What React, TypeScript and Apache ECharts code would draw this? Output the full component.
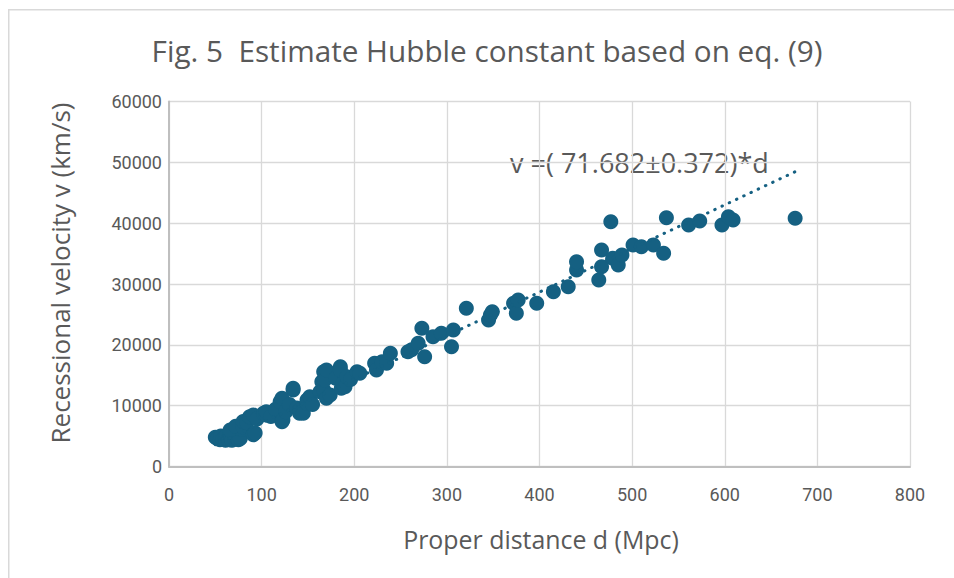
import React, { useEffect, useRef } from "react";
import * as echarts from "echarts";

// Proper distance d (Mpc)
const distances: number[] = [
  50, 52, 55, 56, 58, 60, 61, 62, 64, 65, 66, 67, 68, 70, 71, 72, 73, 75, 76, 77, 78, 66, 72, 80, 80, 84, 87,
  91, 93, 91, 95, 102, 105, 105, 110, 115, 120, 122, 122, 123, 126, 130, 134, 134, 138, 141, 141, 145, 149, 149,
  152, 155, 163, 165, 167, 167, 168, 170, 170, 174, 180, 185, 185, 186, 188, 190, 192, 196, 203, 206, 222, 224,
  230, 235, 239, 258, 262, 269, 273, 276, 285, 294, 305, 307, 321, 345, 347, 349, 372, 375, 377, 397, 415, 431,
  440, 440, 464, 467, 467, 477, 479, 485, 489, 501, 510, 523, 534, 537, 561, 573, 597, 604, 609, 676,
];

// Recessional velocity v (km/s)
const velocities: number[] = [
  4800, 4600, 4400, 5000, 4500, 4700, 4300, 5100, 4500, 4400, 5300, 4800, 4300, 5600, 4500, 4900, 5200, 4400, 5700, 4600, 6100, 6000, 6600, 6540, 7400, 7200, 8190,
  5200, 5500, 8470, 7800, 8750, 8470, 9010, 8200, 9400, 10650, 11210, 7360, 7640, 9000, 10200, 12580, 12850, 9600, 9290, 8750, 8750, 10930, 10390,
  11470, 10200, 12300, 13940, 12580, 15590, 14220, 15860, 11210, 11750, 14500, 16410, 15860, 12850, 13680, 13120, 14760, 14300, 15590, 15320, 16960, 15860,
  17200, 16960, 18600, 18870, 19200, 20250, 22720, 18050, 21340, 21890, 19700, 22440, 26000, 24080, 24900, 25450, 26830, 25190, 27370, 26830, 28740, 29560,
  32300, 33670, 30660, 32850, 35590, 40240, 34230, 33130, 34770, 36410, 36130, 36410, 35050, 40900, 39700, 40360, 39700, 41070, 40520, 40800,
];

// Fitted trendline through the origin: v = H * d
const hubbleSlope = 71.682;
const hubbleErr = 0.372;

const titleText = "Fig. 5  Estimate Hubble constant based on eq. (9)";
const xAxisTitle = "Proper distance d (Mpc)";
const yAxisTitle = "Recessional velocity v (km/s)";

const ACCENT = "#156082";
const TEXT = "#595959";
const FONT = "Roboto";
const TITLE_FONT = "'Open Sans'";

export default function App() {
  const ref = useRef<HTMLDivElement>(null);

  useEffect(() => {
    document.body.style.margin = "0";
    const chart = echarts.init(ref.current!, null, { renderer: "svg" });

    const points = distances.map((d, i) => [d, velocities[i]]);
    const dMin = Math.min(...distances);
    const dMax = Math.max(...distances);
    const trend = [
      [dMin, hubbleSlope * dMin],
      [dMax, hubbleSlope * dMax],
    ];

    chart.setOption({
      animation: false,
      backgroundColor: "#ffffff",
      textStyle: { fontFamily: FONT, color: TEXT },
      grid: { left: 169, top: 101.5, right: 44, bottom: 111.5, containLabel: false },
      xAxis: {
        type: "value",
        min: 0,
        max: 800,
        interval: 100,
        axisLine: { show: true, lineStyle: { color: "#bfbfbf", width: 2 } },
        axisTick: { show: false },
        axisLabel: { color: TEXT, fontSize: 18, fontFamily: FONT, margin: 19 },
        splitLine: { show: true, lineStyle: { color: "#d9d9d9", width: 1.3 } },
      },
      yAxis: {
        type: "value",
        min: 0,
        max: 60000,
        interval: 10000,
        axisLine: { show: true, lineStyle: { color: "#bfbfbf", width: 2 } },
        axisTick: { show: false },
        axisLabel: {
          color: TEXT,
          fontSize: 18,
          fontFamily: FONT,
          margin: 7,
          formatter: (v: number) => String(v),
        },
        splitLine: { show: true, lineStyle: { color: "#d9d9d9", width: 1.3 } },
      },
      series: [
        {
          type: "scatter",
          data: points,
          symbol: "circle",
          symbolSize: 15,
          itemStyle: { color: ACCENT, opacity: 1 },
          z: 2,
        },
        {
          type: "line",
          data: trend,
          showSymbol: false,
          symbol: "none",
          lineStyle: { color: ACCENT, width: 3, type: [0.5, 7.5], cap: "round" },
          z: 3,
          silent: true,
        },
      ],
      graphic: [
        {
          type: "rect",
          shape: { x: 8.75, y: 9.75, width: 2000, height: 2000 },
          style: { fill: "none", stroke: "#d9d9d9", lineWidth: 1.5 },
          z: -10,
          silent: true,
        },
        {
          type: "text",
          x: 487,
          y: 50,
          style: {
            text: titleText,
            fill: TEXT,
            font: `29.7px ${TITLE_FONT}`,
            textAlign: "center",
            textVerticalAlign: "middle",
          },
        },
        {
          type: "text",
          x: 510,
          y: 162,
          style: {
            text: `v =( ${hubbleSlope.toFixed(3)}±${hubbleErr.toFixed(3)})*d`,
            fill: TEXT,
            font: `27px ${TITLE_FONT}`,
            textAlign: "left",
            textVerticalAlign: "middle",
          },
        },
        {
          type: "text",
          x: 541,
          y: 539,
          style: {
            text: xAxisTitle,
            fill: TEXT,
            font: `24.9px ${TITLE_FONT}`,
            textAlign: "center",
            textVerticalAlign: "middle",
          },
        },
        {
          type: "text",
          x: 60,
          y: 273,
          rotation: Math.PI / 2,
          style: {
            text: yAxisTitle,
            fill: TEXT,
            font: `26px ${TITLE_FONT}`,
            textAlign: "center",
            textVerticalAlign: "middle",
          },
        },
      ],
    });

    return () => chart.dispose();
  }, []);

  return <div ref={ref} style={{ width: 954, height: 578 }} />;
}
